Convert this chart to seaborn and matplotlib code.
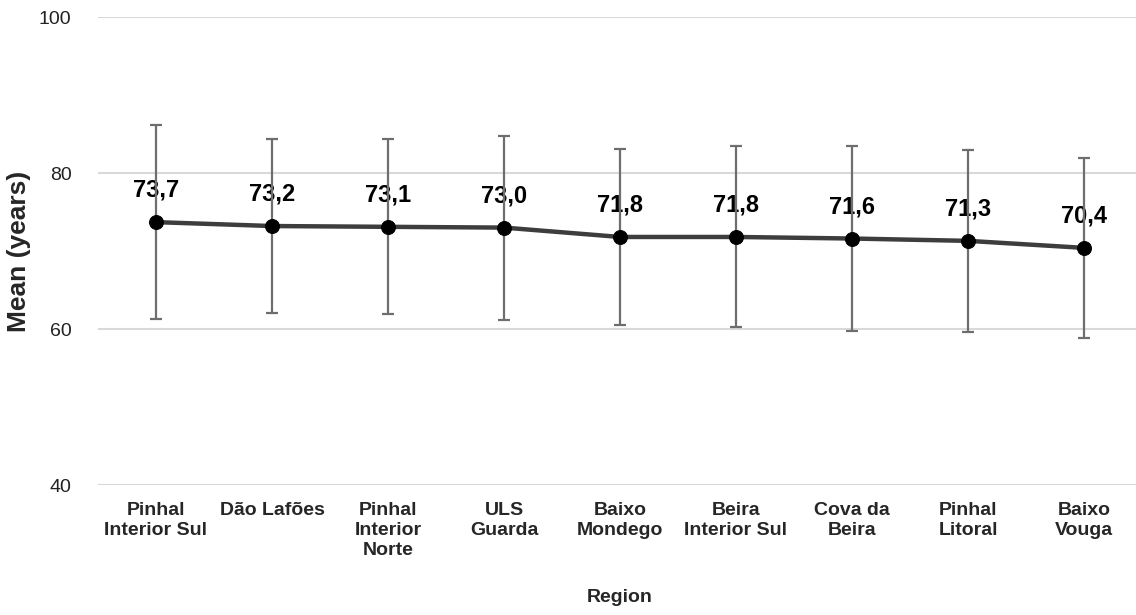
import matplotlib
matplotlib.use("Agg")
import matplotlib.pyplot as plt
import seaborn as sns
import pandas as pd

# Mean age by region with standard deviation
regions = [
    "Pinhal\nInterior Sul", "Dão Lafões", "Pinhal\nInterior\nNorte", "ULS\nGuarda",
    "Baixo\nMondego", "Beira\nInterior Sul", "Cova da\nBeira", "Pinhal\nLitoral", "Baixo\nVouga",
]
means = [73.7, 73.2, 73.1, 73.0, 71.8, 71.8, 71.6, 71.3, 70.4]
sds = [12.4, 11.2, 11.2, 11.8, 11.3, 11.6, 11.8, 11.7, 11.5]
y_ticks = [40, 60, 80, 100]

df = pd.DataFrame({"Region": regions, "Mean": means, "SD": sds})

sns.set_theme(style="white")
plt.rcParams["font.family"] = ["Liberation Sans", "DejaVu Sans"]

fig = plt.figure(figsize=(11.36, 6.15), dpi=100)
ax = fig.add_axes([98 / 1136, 130 / 615, 1044 / 1136, 468 / 615])

x = list(range(len(regions)))
ax.errorbar(x, df["Mean"], yerr=df["SD"], fmt="none", ecolor="#6e6e6e",
            elinewidth=1.6, capsize=4.3, capthick=1.6, zorder=2)

sns.lineplot(data=df, x="Region", y="Mean", sort=False, color="#3d3d3d",
             linewidth=3.2, marker="o", markersize=10, markerfacecolor="black",
             markeredgecolor="black", ax=ax, zorder=3)

for xi, m in zip(x, df["Mean"]):
    ax.annotate(f"{m:.1f}".replace(".", ","), (xi, m), xytext=(0, 23),
                textcoords="offset points", ha="center", va="center",
                fontsize=17, fontweight="bold", color="black", zorder=1)

ax.set_xlim(-0.5, len(regions) - 0.5)
ax.set_ylim(40, 100)
ax.set_yticks(y_ticks)
ax.yaxis.grid(True, color="#d9d9d9", linewidth=1.5)
ax.xaxis.grid(False)
ax.set_axisbelow(True)
for s in ax.spines.values():
    s.set_visible(False)

ax.set_xticks(x)
ax.set_xticklabels(regions, fontsize=14, fontweight="bold", linespacing=1.25)
ax.tick_params(axis="x", length=0, pad=12)
ax.tick_params(axis="y", length=0, pad=19, labelsize=14, labelcolor="#222222")

ax.set_xlabel("Region", fontsize=14, fontweight="bold")
ax.set_ylabel("Mean (years)", fontsize=19, fontweight="bold")
ax.yaxis.label.set_verticalalignment("center")
ax.xaxis.label.set_verticalalignment("center")
ax.yaxis.set_label_coords(-79 / 1044, 0.5)
ax.xaxis.set_label_coords(0.5, -112 / 468)

fig.savefig("out.png", dpi=100)
